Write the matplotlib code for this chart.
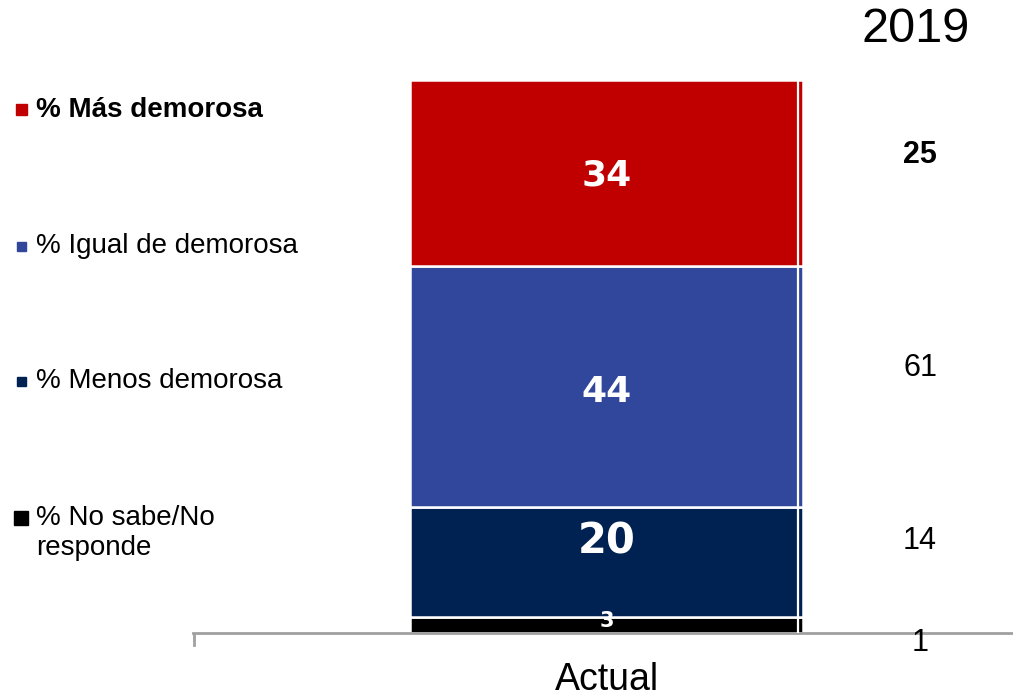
import matplotlib
matplotlib.use("Agg")
import matplotlib.pyplot as plt
from matplotlib.patches import Rectangle
from matplotlib.transforms import offset_copy

plt.rcParams['font.family'] = ['Liberation Sans', 'DejaVu Sans']

categories = ["Actual"]
series_names = ["% No sabe/No\nresponde", "% Menos demorosa", "% Igual de demorosa", "% Más demorosa"]
actual_values = [3, 20, 44, 34]
values_2019 = [1, 14, 61, 25]
colors = ["#000000", "#002253", "#31479C", "#C00000"]

W, H = 1013, 696
fig = plt.figure(figsize=(W / 100, H / 100), dpi=100)

def fx(px):
    return px / W

def fy(py):
    return 1 - py / H

ax_left, ax_right, ax_top, ax_bot = 193, 1013, 80, 633
ax = fig.add_axes([fx(ax_left), fy(ax_bot), fx(ax_right - ax_left), (ax_bot - ax_top) / H])
total = sum(actual_values)
ax.set_ylim(0, total)
bar_l, bar_r = 410, 803
center = (bar_l + bar_r) / 2
span = ax_right - ax_left
ax.set_xlim(-(center - ax_left) / span, (ax_right - center) / span)
width = (bar_r - bar_l) / span

bottom = 0
for val, col in zip(actual_values, colors):
    ax.bar(0, val, width=width, bottom=bottom, color=col, edgecolor="white", linewidth=1.8, zorder=2)
    bottom += val

# thin separating line near right edge of bar (sliver)
sliver_x = (797.5 - center) / span
ax.plot([sliver_x, sliver_x], [0, total], color="white", lw=1.6, zorder=3)

# value labels inside bar (per-label size and vertical pixel offset)
label_sizes = [15, 30, 26, 26]
label_offsets = [4, 20, -5, -2]
bottom = 0
for val, fs, off in zip(actual_values, label_sizes, label_offsets):
    tr = offset_copy(ax.transData, fig=fig, x=0, y=off, units="dots")
    ax.text(0, bottom + val / 2, str(val), ha="center", va="center", color="white",
            fontsize=fs, fontweight="bold", family="DejaVu Sans", zorder=4, transform=tr)
    bottom += val

for s in ["top", "right", "left"]:
    ax.spines[s].set_visible(False)
ax.spines["bottom"].set_color("#A0A0A0")
ax.spines["bottom"].set_linewidth(2)
ax.set_yticks([])
ax.set_xticks([])
ax.set_facecolor("none")

# left tick at axis start
fig.add_artist(plt.Line2D([fx(194), fx(194)], [fy(634), fy(645)], color="#A0A0A0", lw=2))

# category label
fig.text(fx(center), fy(680), categories[0], ha="center", va="center", fontsize=27)

# 2019 column
fig.text(fx(916), fy(30), "2019", ha="center", va="center", fontsize=35)
y_2019 = [643, 541, 368, 155]
for val, py, bold in zip(values_2019, y_2019, [False, False, False, True]):
    fig.text(fx(920), fy(py), str(val), ha="center", va="center", fontsize=22,
             fontweight="bold" if bold else "normal")

# legend
legend_rows = [
    (series_names[3], colors[3], 110, (16, 104, 11), True),
    (series_names[2], colors[2], 246, (17, 242, 9), False),
    (series_names[1], colors[1], 381, (17, 377, 9), False),
    (series_names[0], colors[0], 533, (14, 511, 14), False),
]
for name, col, py, (sx, sy, ss), bold in legend_rows:
    fig.add_artist(Rectangle((fx(sx), fy(sy + ss)), ss / W, ss / H, color=col, transform=fig.transFigure))
    fig.text(fx(36), fy(py), name, ha="left", va="center", fontsize=20,
             fontweight="bold" if bold else "normal", linespacing=1.2)

fig.savefig("out.png", dpi=100)
